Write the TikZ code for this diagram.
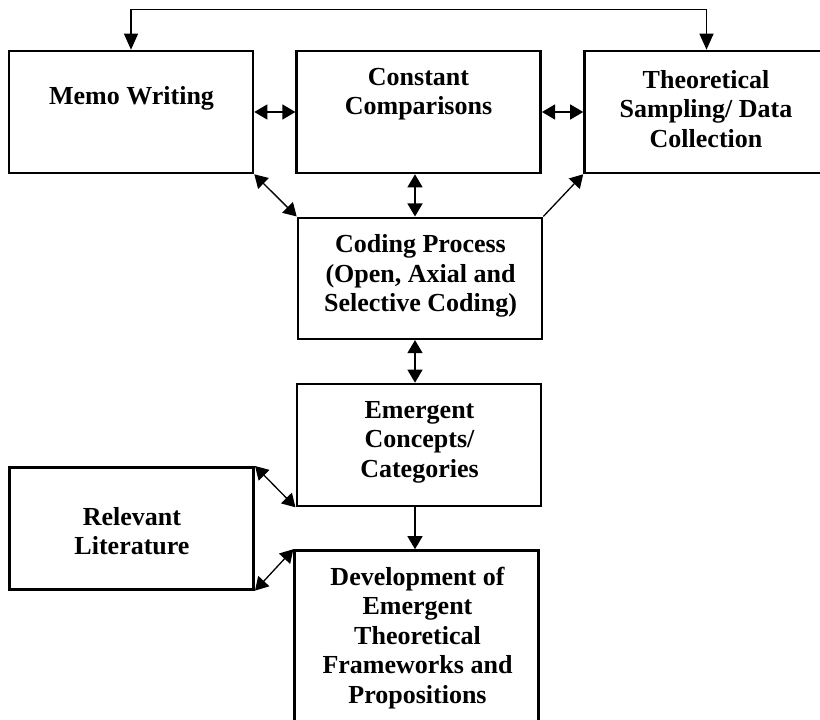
\documentclass[tikz,border=0pt]{standalone}
\usepackage{fontspec}
\setmainfont{Liberation Serif}
\usetikzlibrary{arrows.meta}
\begin{document}
\begin{tikzpicture}[x=1bp, y=-1bp,
  box/.style={draw, line width=2.6bp, rectangle, inner sep=0pt,
    minimum width=244bp, minimum height=122bp},
  label/.style={align=center, inner sep=0pt,
    font=\fontsize{26bp}{29.5bp}\selectfont\bfseries},
  link/.style={line width=1.3bp},
  both/.style={link, {Triangle[length=13bp, width=15bp]}-{Triangle[length=13bp, width=15bp]}},
  one/.style={link, -{Triangle[length=13bp, width=15bp]}}]
\useasboundingbox (0,0) rectangle (820,720);
\clip (0,0) rectangle (820,720);

% boxes
\node[box] (memo)  at (131,112) {};
\node[box] (const) at (418.7,112) {};
\node[box] (theo)  at (706.5,112) {};
\node[box, minimum height=121bp] (code) at (420,278.3) {};
\node[box] (emerg) at (418.8,445) {};
\node[box] (lit)   at (131.7,528.3) {};
\node[box, minimum height=219bp] (dev) at (416.7,660) {};

% texts
\node[label] (tmemo)  at (131.5,98) {Memo Writing};
\node[label] (tconst) at (418.5,94) {Constant\\Comparisons};
\node[label] (ttheo)  at (706,109) {Theoretical\\Sampling/ Data\\Collection};
\node[label] (tcode)  at (420.5,276) {Coding Process\\(Open, Axial and\\Selective Coding)};
\node[label] (temerg) at (419.5,442) {Emergent\\Concepts/\\Categories};
\node[label] (tlit)   at (132,531) {Relevant\\Literature};
\node[label] (tdev)   at (417.5,638) {Development of\\Emergent\\Theoretical\\Frameworks and\\Propositions};

% connectors
\coordinate (axis) at (415,0);
\draw[link, {Triangle[length=16bp, width=14bp]}-{Triangle[length=16bp, width=14bp]}]
  (memo.north) -- ++(0,-40.5) -| (theo.north);
\draw[both] (memo.east) -- (const.west);
\draw[both] (const.east) -- (theo.west);
\draw[both] (memo.south east) -- (code.north west);
\draw[both] (axis |- const.south) -- (axis |- code.north);
\draw[one] (code.north east) -- (theo.south west);
\draw[both] (axis |- code.south) -- (axis |- emerg.north);
\draw[one] (axis |- emerg.south) -- (axis |- dev.north);
\draw[both] (lit.north east) -- (emerg.south west);
\draw[both] (lit.south east) -- (dev.north west);
\end{tikzpicture}
\end{document}
